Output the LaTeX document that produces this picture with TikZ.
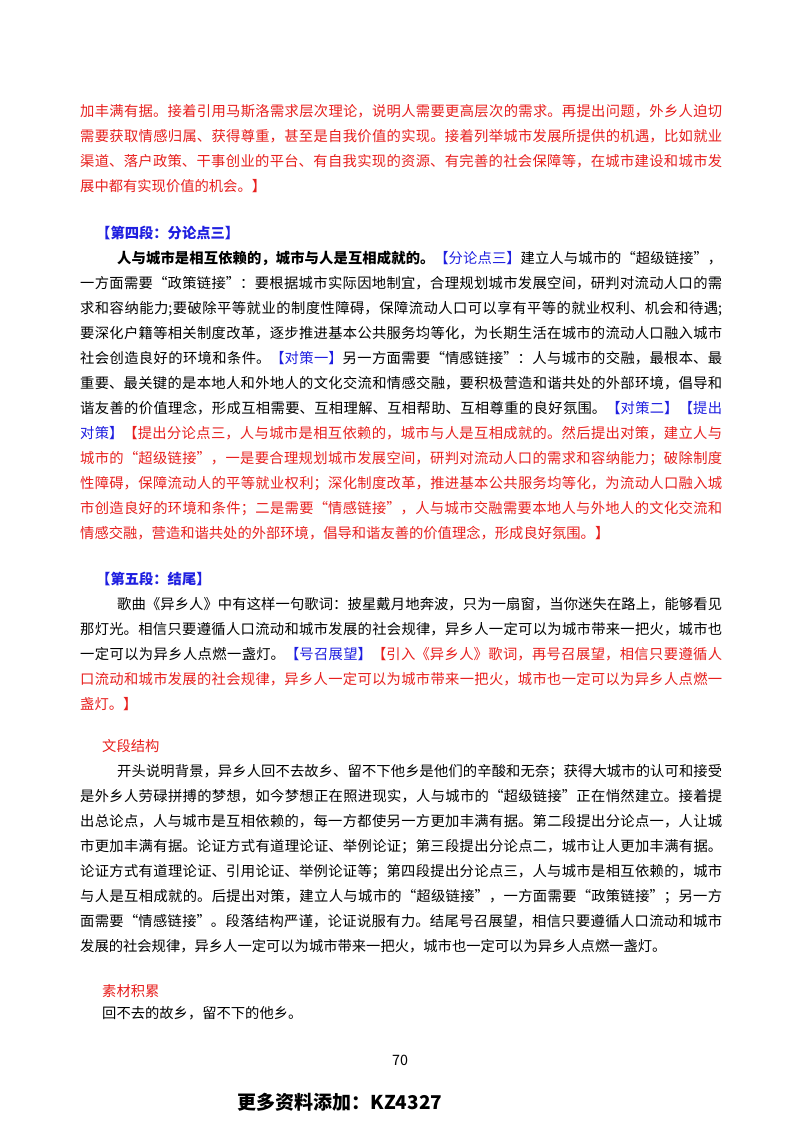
\documentclass[tikz,border=0pt]{standalone}
\usepackage{fontspec}
\setmainfont{Noto Sans CJK SC}
\definecolor{rd}{HTML}{E8201E}
\definecolor{bl}{HTML}{1F1FE0}
\XeTeXlinebreaklocale "zh"
\XeTeXlinebreakskip=0pt plus 3pt minus 1pt
\newcommand\R[1]{\textcolor{rd}{#1}}
\newcommand\B[1]{\textcolor{bl}{#1}}
\newcommand\tline[3]{\node[anchor=base west,inner sep=0pt] (n#1) at (#2pt,-#1pt-6pt) {\parbox[b]{\dimexpr722pt-#2pt}{\parfillskip=0pt \strut#3}};}
\newcommand\tlast[3]{\node[anchor=base west,inner sep=0pt] (n#1) at (#2pt,-#1pt-6pt) {\strut#3};}
\begin{document}
\begin{tikzpicture}[font=\fontsize{14.3pt}{18pt}\selectfont]
\useasboundingbox (0,0) rectangle (800pt,-1132pt);
\fill[white] (0,0) rectangle (800pt,-1132pt);
\tline{110}{80}{\R{加丰满有据。接着引用马斯洛需求层次理论，说明人需要更高层次的需求。再提出问题，外乡人迫切}}
\tline{135}{80}{\R{需要获取情感归属、获得尊重，甚至是自我价值的实现。接着列举城市发展所提供的机遇，比如就业}}
\tline{160}{80}{\R{渠道、落户政策、干事创业的平台、有自我实现的资源、有完善的社会保障等，在城市建设和城市发}}
\tlast{185}{80}{\R{展中都有实现价值的机会。】}}
\tlast{232}{96}{\B{\bfseries 【第四段：分论点三】}}
\tline{257}{117}{\textbf{人与城市是相互依赖的，城市与人是互相成就的。}\B{【分论点三】}建立人与城市的“超级链接”，}
\tline{282}{80}{一方面需要“政策链接”：要根据城市实际因地制宜，合理规划城市发展空间，研判对流动人口的需}
\tline{307}{80}{求和容纳能力;要破除平等就业的制度性障碍，保障流动人口可以享有平等的就业权利、机会和待遇;}
\tline{332}{80}{要深化户籍等相关制度改革，逐步推进基本公共服务均等化，为长期生活在城市的流动人口融入城市}
\tline{357}{80}{社会创造良好的环境和条件。\B{【对策一】}另一方面需要“情感链接”：人与城市的交融，最根本、最}
\tline{382}{80}{重要、最关键的是本地人和外地人的文化交流和情感交融，要积极营造和谐共处的外部环境，倡导和}
\tline{407}{80}{谐友善的价值理念，形成互相需要、互相理解、互相帮助、互相尊重的良好氛围。\B{【对策二】【提出}}
\tline{432}{80}{\B{对策】}\R{【提出分论点三，人与城市是相互依赖的，城市与人是互相成就的。然后提出对策，建立人与}}
\tline{457}{80}{\R{城市的“超级链接”，一是要合理规划城市发展空间，研判对流动人口的需求和容纳能力；破除制度}}
\tline{482}{80}{\R{性障碍，保障流动人的平等就业权利；深化制度改革，推进基本公共服务均等化，为流动人口融入城}}
\tline{507}{80}{\R{市创造良好的环境和条件；二是需要“情感链接”，人与城市交融需要本地人与外地人的文化交流和}}
\tlast{532}{80}{\R{情感交融，营造和谐共处的外部环境，倡导和谐友善的价值理念，形成良好氛围。】}}
\tlast{578}{96}{\B{\bfseries 【第五段：结尾】}}
\tline{603}{117}{歌曲《异乡人》中有这样一句歌词：披星戴月地奔波，只为一扇窗，当你迷失在路上，能够看见}
\tline{628}{80}{那灯光。相信只要遵循人口流动和城市发展的社会规律，异乡人一定可以为城市带来一把火，城市也}
\tline{653}{80}{一定可以为异乡人点燃一盏灯。\B{【号召展望】}\R{【引入《异乡人》歌词，再号召展望，相信只要遵循人}}
\tline{678}{80}{\R{口流动和城市发展的社会规律，异乡人一定可以为城市带来一把火，城市也一定可以为异乡人点燃一}}
\tlast{703}{80}{\R{盏灯。】}}
\tlast{745}{102}{\R{文段结构}}
\tline{770}{117}{开头说明背景，异乡人回不去故乡、留不下他乡是他们的辛酸和无奈；获得大城市的认可和接受}
\tline{795}{80}{是外乡人劳碌拼搏的梦想，如今梦想正在照进现实，人与城市的“超级链接”正在悄然建立。接着提}
\tline{820}{80}{出总论点，人与城市是互相依赖的，每一方都使另一方更加丰满有据。第二段提出分论点一，人让城}
\tline{845}{80}{市更加丰满有据。论证方式有道理论证、举例论证；第三段提出分论点二，城市让人更加丰满有据。}
\tline{870}{80}{论证方式有道理论证、引用论证、举例论证等；第四段提出分论点三，人与城市是相互依赖的，城市}
\tline{895}{80}{与人是互相成就的。后提出对策，建立人与城市的“超级链接”，一方面需要“政策链接”；另一方}
\tline{920}{80}{面需要“情感链接”。段落结构严谨，论证说服有力。结尾号召展望，相信只要遵循人口流动和城市}
\tlast{945}{80}{发展的社会规律，异乡人一定可以为城市带来一把火，城市也一定可以为异乡人点燃一盏灯。}
\tlast{990}{102}{\R{素材积累}}
\tlast{1012}{102}{回不去的故乡，留不下的他乡。}
\node[inner sep=0pt] (pg) at (400pt,-1060pt) {70};
\node[inner sep=0pt,font=\fontsize{19pt}{22pt}\selectfont\bfseries] (ad) at (340pt,-1102pt) {更多资料添加：KZ4327};
\end{tikzpicture}
\end{document}
